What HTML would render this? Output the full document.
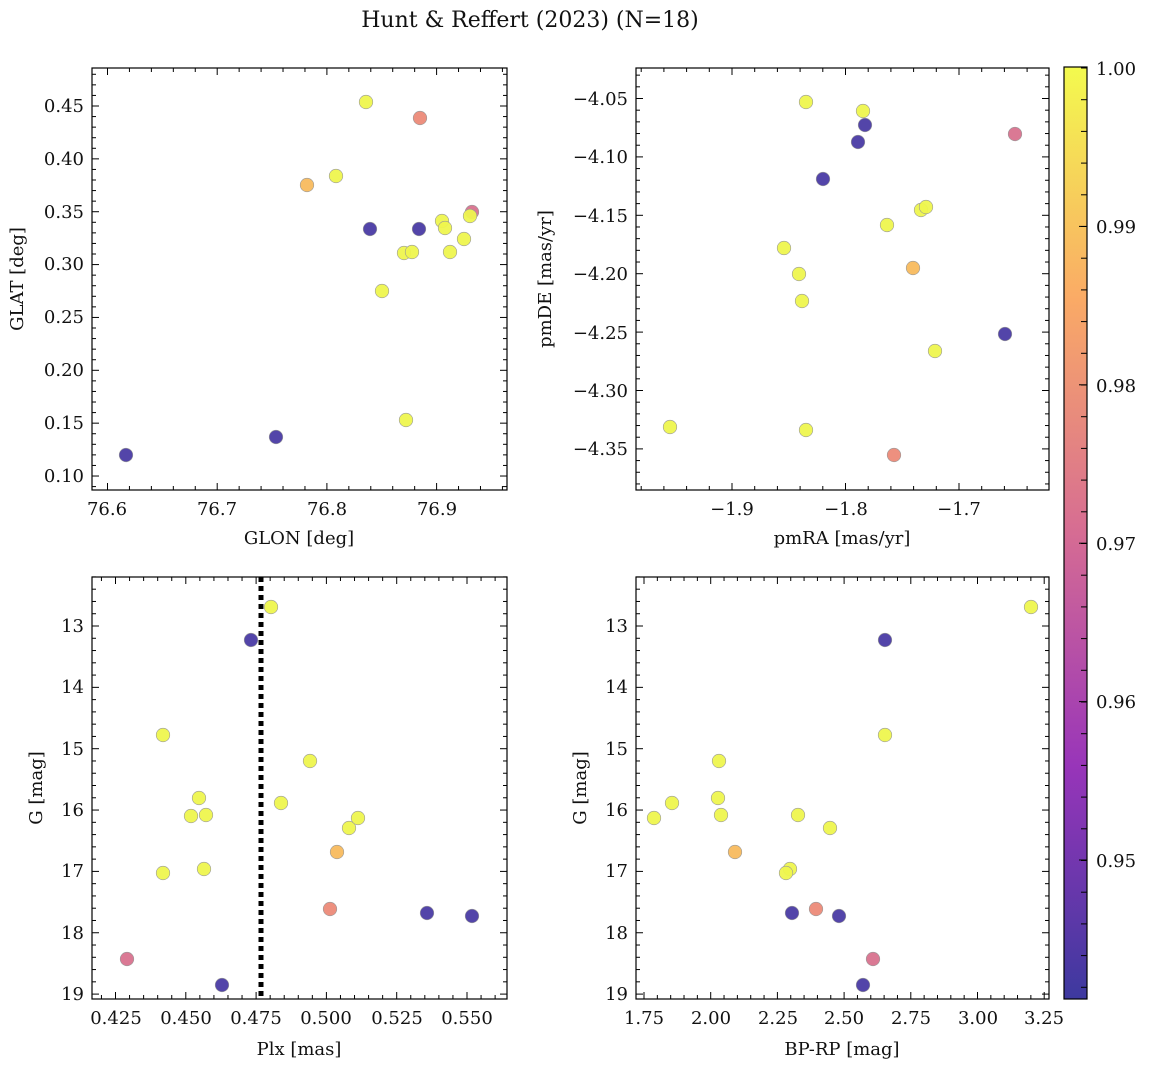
<!DOCTYPE html>
<html><head><meta charset="utf-8"><style>
html,body{margin:0;padding:0;background:#fff;}
svg{display:block;font-family:"DejaVu Serif","Liberation Serif",serif;}
text{font-size:18px;fill:#111;}
</style></head><body>
<svg id="s" width="1149" height="1067" viewBox="0 0 1149 1067" xmlns="http://www.w3.org/2000/svg">
<defs>
<linearGradient id="cm" x1="0" y1="1" x2="0" y2="0">
<stop offset="0" stop-color="#3d399f"/>
<stop offset="0.25" stop-color="#9835b9"/>
<stop offset="0.5" stop-color="#d66c93"/>
<stop offset="0.75" stop-color="#faaa66"/>
<stop offset="1" stop-color="#f3fa4e"/>
</linearGradient>
</defs>
<text x="530" y="27" text-anchor="middle" style="font-size:22px">Hunt &amp; Reffert (2023) (N=18)</text>
<g id="pts"></g>
<line x1="261" y1="577" x2="261" y2="999" stroke="#000" stroke-width="5" stroke-dasharray="5,4"/>
<g id="frames" fill="none" stroke="#000" stroke-width="1.2">
<rect x="92" y="68" width="415" height="422"/>
<rect x="636" y="68" width="413" height="422"/>
<rect x="92" y="577" width="415" height="422"/>
<rect x="636" y="577" width="413" height="422"/>
</g>
<rect x="1064" y="67" width="23" height="932" fill="url(#cm)" stroke="#000" stroke-width="1.2"/>
<g id="ticks" stroke="#000" stroke-width="1"></g>
<g text-anchor="middle">
<text x="107" y="515">76.6</text><text x="217" y="515">76.7</text><text x="327" y="515">76.8</text><text x="437" y="515">76.9</text>
<text x="299" y="544">GLON [deg]</text>
<text x="732" y="515">−1.9</text><text x="846" y="515">−1.8</text><text x="959" y="515">−1.7</text>
<text x="842" y="544">pmRA [mas/yr]</text>
<text x="116" y="1024">0.425</text><text x="186" y="1024">0.450</text><text x="256" y="1024">0.475</text><text x="326" y="1024">0.500</text><text x="397" y="1024">0.525</text><text x="467" y="1024">0.550</text>
<text x="299" y="1055">Plx [mas]</text>
<text x="644" y="1024">1.75</text><text x="711" y="1024">2.00</text><text x="778" y="1024">2.25</text><text x="844" y="1024">2.50</text><text x="911" y="1024">2.75</text><text x="978" y="1024">3.00</text><text x="1044" y="1024">3.25</text>
<text x="842" y="1055">BP-RP [mag]</text>
</g>
<g text-anchor="end">
<text x="84" y="112">0.45</text><text x="84" y="165">0.40</text><text x="84" y="218">0.35</text><text x="84" y="270">0.30</text><text x="84" y="323">0.25</text><text x="84" y="376">0.20</text><text x="84" y="429">0.15</text><text x="84" y="482">0.10</text>
<text x="628" y="105">−4.05</text><text x="628" y="163">−4.10</text><text x="628" y="222">−4.15</text><text x="628" y="280">−4.20</text><text x="628" y="339">−4.25</text><text x="628" y="397">−4.30</text><text x="628" y="455">−4.35</text>
<text x="84" y="632">13</text><text x="84" y="693">14</text><text x="84" y="755">15</text><text x="84" y="816">16</text><text x="84" y="877">17</text><text x="84" y="939">18</text><text x="84" y="1000">19</text>
<text x="628" y="632">13</text><text x="628" y="693">14</text><text x="628" y="755">15</text><text x="628" y="816">16</text><text x="628" y="877">17</text><text x="628" y="939">18</text><text x="628" y="1000">19</text>
</g>
<text transform="translate(23,279) rotate(-90)" text-anchor="middle">GLAT [deg]</text>
<text transform="translate(551,279) rotate(-90)" text-anchor="middle">pmDE [mas/yr]</text>
<text transform="translate(42,788) rotate(-90)" text-anchor="middle">G [mag]</text>
<text transform="translate(586,788) rotate(-90)" text-anchor="middle">G [mag]</text>
<g>
<text x="1096" y="75">1.00</text><text x="1096" y="233">0.99</text><text x="1096" y="392">0.98</text><text x="1096" y="550">0.97</text><text x="1096" y="708">0.96</text><text x="1096" y="867">0.95</text>
</g>
</svg>
<script>
var NS="http://www.w3.org/2000/svg";
var T=document.getElementById("ticks"),P=document.getElementById("pts");
function ln(x1,y1,x2,y2){var l=document.createElementNS(NS,"line");l.setAttribute("x1",x1);l.setAttribute("y1",y1);l.setAttribute("x2",x2);l.setAttribute("y2",y2);T.appendChild(l);}
function mod(i,m){return ((i%m)+m)%m==0;}
function axis2(x0,y0,x1,y1,xs,xstep,xmaj,ys,ystep,ymaj){
 for(var i=-60;i<80;i++){var x=xs+i*xstep;if(x<x0-0.5||x>x1+0.5)continue;var L=mod(i,xmaj)?7:4;ln(x,y1,x,y1-L);ln(x,y0,x,y0+L);}
 for(var i=-60;i<80;i++){var y=ys+i*ystep;if(y<y0-0.5||y>y1+0.5)continue;var L=mod(i,ymaj)?7:4;ln(x0,y,x0+L,y);ln(x1,y,x1-L,y);}
}
axis2(92,68,507,490,107.5,21.94,5,106,52.86/5,5);
axis2(636,68,1049,490,732,22.7,5,98.5,11.68,5);
axis2(92,577,507,999,115.5,14.06,5,626,12.27,5);
axis2(636,577,1049,999,644,13.34,5,626,12.27,5);
for(var i=0;i<40;i++){var y=68+i*31.7;if(y>999)break;ln(1087,y,1081,y);}
for(var i=1;i<6;i++){var y=68+i*158.4;ln(1087,y,1079,y);}
var C={b:"#4a3ba4",y:"#eef54e",o:"#f8bb5e",s:"#ec8a78",p:"#d8728e"};
var pts=[
[126,455,"b"],[276,437,"b"],[307,185,"o"],[336,176,"y"],[366,102,"y"],[420,118,"s"],[370,229,"b"],[419,229,"b"],[404,253,"y"],[412,252,"y"],[382,291,"y"],[406,420,"y"],[442,221,"y"],[445,228,"y"],[450,252,"y"],[464,239,"y"],[472,212,"p"],[470,216,"y"],
[670,427,"y"],[784,248,"y"],[802,301,"y"],[806,102,"y"],[799,274,"y"],[806,430,"y"],[823,179,"b"],[858,142,"b"],[865,125,"b"],[863,111,"y"],[887,225,"y"],[894,455,"s"],[913,268,"o"],[921,210,"y"],[926,207,"y"],[935,351,"y"],[1005,334,"b"],[1015,134,"p"],
[127,959,"p"],[163,735,"y"],[163,873,"y"],[191,816,"y"],[199,798,"y"],[206,815,"y"],[204,869,"y"],[222,985,"b"],[251,640,"b"],[271,607,"y"],[281,803,"y"],[310,761,"y"],[337,852,"o"],[330,909,"s"],[349,828,"y"],[358,818,"y"],[427,913,"b"],[472,916,"b"],
[654,818,"y"],[672,803,"y"],[719,761,"y"],[718,798,"y"],[721,815,"y"],[735,852,"o"],[790,869,"y"],[786,873,"y"],[792,913,"b"],[798,815,"y"],[816,909,"s"],[830,828,"y"],[839,916,"b"],[863,985,"b"],[873,959,"p"],[885,640,"b"],[885,735,"y"],[1031,607,"y"]
];
pts.forEach(function(p){var c=document.createElementNS(NS,"circle");c.setAttribute("cx",p[0]);c.setAttribute("cy",p[1]);c.setAttribute("r",6.8);c.setAttribute("fill",C[p[2]]);c.setAttribute("stroke","#999");c.setAttribute("stroke-width","0.6");c.setAttribute("fill-opacity","0.95");P.appendChild(c);});
</script>
</body></html>
